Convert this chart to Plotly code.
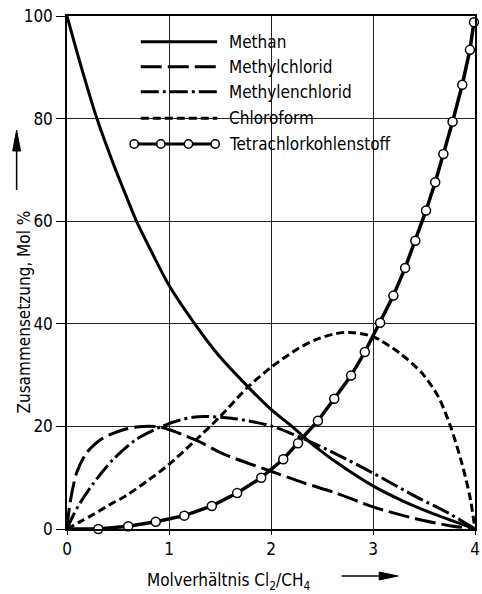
import plotly.graph_objects as go

# ---- data ----
methan_x = [0, 0.1, 0.2, 0.293, 0.45, 0.578, 0.681, 0.85, 1.0, 1.223, 1.48, 1.77, 2.0, 2.21, 2.45, 2.64, 3.0, 3.3, 3.6, 3.85, 4.0]
methan_y = [100, 92.8, 86.0, 80.0, 71.4, 65.0, 60.0, 53.2, 47.5, 40.8, 34.0, 27.8, 23.3, 19.9, 15.8, 13.0, 8.4, 5.4, 2.9, 1.1, 0]

mcl_x = [0, 0.03, 0.094, 0.19, 0.35, 0.578, 0.75, 0.93, 1.255, 1.55, 1.965, 2.32, 2.64, 3.0, 3.42, 3.74, 4.0]
mcl_y = [0, 5.1, 10.9, 14.8, 17.7, 19.5, 20.0, 19.8, 17.4, 14.5, 11.5, 9.0, 7.0, 4.3, 2.0, 0.7, 0]

dcm_x = [0, 0.05, 0.126, 0.255, 0.45, 0.675, 0.93, 1.1, 1.29, 1.61, 2.0, 2.32, 2.64, 3.0, 3.42, 3.74, 4.0]
dcm_y = [0, 2.2, 5.0, 8.8, 13.5, 17.4, 20.0, 21.2, 21.9, 21.6, 20.1, 17.6, 14.6, 10.9, 6.3, 3.1, 0]

chl_x = [0, 0.126, 0.255, 0.416, 0.578, 0.803, 1.0, 1.255, 1.5, 1.77, 2.0, 2.26, 2.45, 2.64, 2.78, 3.0, 3.26, 3.48,
         3.64, 3.76, 3.87, 3.95, 4.0]
chl_y = [0, 1.4, 2.8, 4.7, 6.5, 9.6, 12.6, 17.2, 21.9, 27.6, 31.5, 35.1, 37.0, 38.1, 38.3, 37.5, 34.3, 30.4,
         25.8, 20.0, 12.9, 6.3, 0]

tcm_x = [0, 0.307, 0.60, 0.87, 1.15, 1.42, 1.668, 1.904, 2.12, 2.265, 2.46, 2.62, 2.785, 2.92, 3.07, 3.20,
         3.315, 3.415, 3.52, 3.61, 3.69, 3.78, 3.875, 3.95, 3.99]
tcm_y = [0, 0, 0.55, 1.4, 2.6, 4.5, 7.0, 10.0, 13.6, 16.7, 21.1, 25.4, 29.9, 34.5, 40.2, 45.5,
         50.9, 56.2, 62.1, 67.6, 73.1, 79.4, 86.6, 93.4, 98.8]

names = ["Methan", "Methylchlorid", "Methylenchlorid", "Chloroform", "Tetrachlorkohlenstoff"]
x_ticks = [0, 1, 2, 3, 4]
y_ticks = [0, 20, 40, 60, 80, 100]

FONT = "DejaVu Sans Condensed, DejaVu Sans, sans-serif"
W, H = 482, 594
ML, MR, MT, MB = 67, 2, 16, 65
PW, PH = W - ML - MR, H - MT - MB


def px(x):
    return (x - ML) / PW


def py(y):
    return (H - MB - y) / PH


dashes = ["solid", "21px,6px", "18px,4px,3px,4px", "8px,4px", "solid"]

fig = go.Figure()
for xs, ys, nm, dsh in [(methan_x, methan_y, names[0], dashes[0]), (mcl_x, mcl_y, names[1], dashes[1]),
                        (dcm_x, dcm_y, names[2], dashes[2]), (chl_x, chl_y, names[3], dashes[3])]:
    fig.add_trace(go.Scatter(x=xs, y=ys, mode="lines", name=nm,
                             line=dict(color="black", width=3, dash=dsh, shape="spline", smoothing=0.8)))
fig.add_trace(go.Scatter(x=tcm_x, y=tcm_y, mode="lines", name=names[4],
                         line=dict(color="black", width=3.5), cliponaxis=False))
fig.add_trace(go.Scatter(x=tcm_x[1:], y=tcm_y[1:], mode="markers", name=names[4], showlegend=False,
                         marker=dict(symbol="circle", size=9, color="white",
                                     line=dict(color="black", width=1.5)), cliponaxis=False))

shapes = []
# legend background masks
shapes.append(dict(type="rect", xref="paper", yref="paper", x0=px(125), x1=px(358), y0=py(157), y1=py(27),
                   fillcolor="white", line=dict(width=0), layer="between"))
shapes.append(dict(type="rect", xref="paper", yref="paper", x0=px(358), x1=px(410), y0=py(157), y1=py(131),
                   fillcolor="white", line=dict(width=0), layer="between"))

rows = [41.7, 66.7, 91.7, 118.3, 144]
annotations = []
for i, (nm, dsh) in enumerate(zip(names, dashes)):
    yy = py(rows[i])
    x0, x1 = (141.7, 219) if i < 4 else (135, 217)
    shapes.append(dict(type="line", xref="paper", yref="paper", x0=px(x0), x1=px(x1), y0=yy, y1=yy,
                       line=dict(color="black", width=3, dash=dsh)))
    annotations.append(dict(text=nm, xref="paper", yref="paper", x=px(229), y=yy, xanchor="left",
                            yanchor="middle", showarrow=False, font=dict(family=FONT, size=17, color="black")))
for cx in [135, 162, 190, 217]:
    r = 4.2
    shapes.append(dict(type="circle", xref="paper", yref="paper", x0=px(cx - r), x1=px(cx + r),
                       y0=py(144 + r), y1=py(144 - r), fillcolor="white", line=dict(color="black", width=1.5)))

# axis arrows
shapes.append(dict(type="line", xref="paper", yref="paper", x0=px(16), x1=px(16), y0=py(190), y1=py(148),
                   line=dict(color="black", width=1.5)))
shapes.append(dict(type="path", xref="paper", yref="paper",
                   path=f"M {px(16)},{py(130)} L {px(12)},{py(151)} L {px(20)},{py(151)} Z",
                   fillcolor="black", line=dict(color="black", width=1)))
shapes.append(dict(type="line", xref="paper", yref="paper", x0=px(345), x1=px(386), y0=py(576), y1=py(576),
                   line=dict(color="black", width=1.5)))
shapes.append(dict(type="path", xref="paper", yref="paper",
                   path=f"M {px(402)},{py(576)} L {px(383)},{py(572)} L {px(383)},{py(580)} Z",
                   fillcolor="black", line=dict(color="black", width=1)))

annotations.append(dict(text="Zusammensetzung, Mol %", xref="paper", yref="paper", x=px(23), y=py(312),
                        textangle=-90, showarrow=False, xanchor="center", yanchor="middle",
                        font=dict(family=FONT, size=17, color="black")))
annotations.append(dict(text="Molverhältnis Cl<sub>2</sub>/CH<sub>4</sub>", xref="paper", yref="paper",
                        x=px(230), y=py(581), showarrow=False, xanchor="center", yanchor="middle",
                        font=dict(family=FONT, size=17, color="black")))

fig.update_layout(
    width=W, height=H, margin=dict(l=ML, r=MR, t=MT, b=MB),
    paper_bgcolor="white", plot_bgcolor="white", showlegend=False,
    font=dict(family=FONT, size=17, color="black"),
    shapes=shapes, annotations=annotations,
    xaxis=dict(range=[0, 4], tickvals=x_ticks, ticktext=[str(v) for v in x_ticks],
               showgrid=True, gridcolor="#222", gridwidth=1, zeroline=False,
               showline=True, linecolor="black", linewidth=1.5, mirror=True, ticklabeloverflow="allow",
               ticks="outside", ticklen=4, tickcolor="black", tickfont=dict(family=FONT, size=17)),
    yaxis=dict(range=[0, 100], tickvals=y_ticks, ticktext=[str(v) for v in y_ticks],
               showgrid=True, gridcolor="#222", gridwidth=1, zeroline=False,
               showline=True, linecolor="black", linewidth=1.5, mirror=True, ticklabeloverflow="allow",
               ticks="outside", ticklen=9, tickcolor="black", tickfont=dict(family=FONT, size=17)),
)

fig.write_html("out.html", config={"displayModeBar": False},
               post_script="document.body.style.margin='0px';document.body.style.overflow='hidden';")
